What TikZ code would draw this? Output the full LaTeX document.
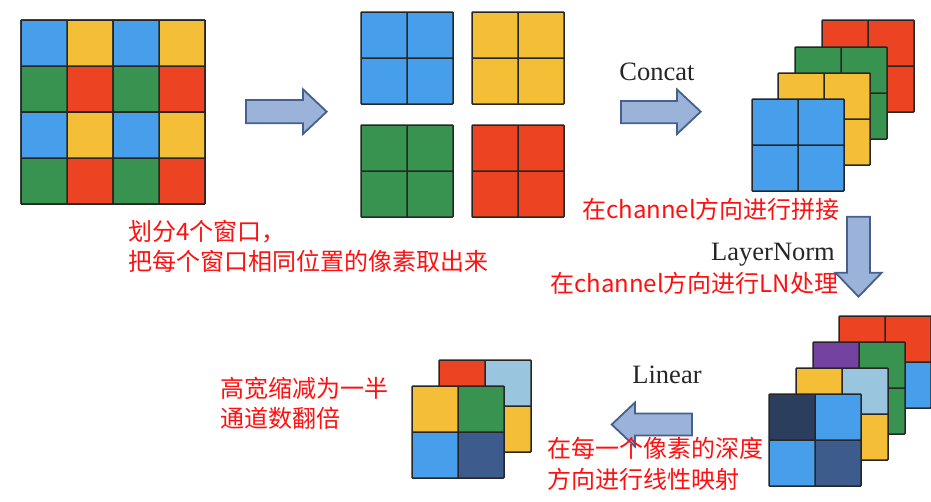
\documentclass[tikz,border=0pt]{standalone}
\usepackage{fontspec}
\setmainfont{Liberation Serif}
\newfontfamily\cjk{Noto Sans CJK SC}
\definecolor{cblue}{HTML}{479FEC}
\definecolor{cyellow}{HTML}{F4BF37}
\definecolor{cgreen}{HTML}{399350}
\definecolor{cred}{HTML}{EC4422}
\definecolor{cpurple}{HTML}{7442A0}
\definecolor{clight}{HTML}{9AC5DE}
\definecolor{cnavy}{HTML}{2B3E5D}
\definecolor{cdark}{HTML}{3E5B8E}
\definecolor{afill}{HTML}{9CB3D9}
\definecolor{adraw}{HTML}{46608E}
\definecolor{tred}{HTML}{FF1010}
\newcommand\lay[6]{%
\begin{scope}[shift={(#1,#2)}]
\fill[#3] (0,0) rectangle (46,46);
\fill[#4] (46,0) rectangle (92,46);
\fill[#5] (0,46) rectangle (46,92);
\fill[#6] (46,46) rectangle (92,92);
\draw[cellline] (0,0) rectangle (92,92) (46,0) -- (46,92) (0,46) -- (92,46);
\end{scope}}
\begin{document}
\begin{tikzpicture}[x=1pt,y=-1pt,
  cellline/.style={line width=1.5pt, draw=black!85, rounded corners=0.8pt},
  blockarrow/.style={fill=afill, draw=adraw, line width=1.8pt, line join=miter},
  entxt/.style={font=\fontsize{26.5}{26.5}\selectfont, text=black!85, inner sep=0pt},
  cntxt/.style={font=\cjk\fontsize{24}{30}\selectfont, text=tred, inner sep=0pt, anchor=base west}]
\useasboundingbox (0,0) rectangle (931,501);
% big 4x4 grid
\lay{21}{20}{cblue}{cyellow}{cgreen}{cred}
\lay{113}{20}{cblue}{cyellow}{cgreen}{cred}
\lay{21}{112}{cblue}{cyellow}{cgreen}{cred}
\lay{113}{112}{cblue}{cyellow}{cgreen}{cred}
\draw[cellline] (21,20) rectangle (205,204);
% arrow 1
\draw[blockarrow] (246,100) -- (303,100) -- (303,89.3) -- (326.7,111.7) -- (303,134) -- (303,123.3) -- (246,123.3) -- cycle;
% windows
\lay{361}{12}{cblue}{cblue}{cblue}{cblue}
\lay{472}{12}{cyellow}{cyellow}{cyellow}{cyellow}
\lay{361}{125}{cgreen}{cgreen}{cgreen}{cgreen}
\lay{472}{125}{cred}{cred}{cred}{cred}
% concat arrow
\node[entxt, anchor=base] (concat) at (657,80) {Concat};
\draw[blockarrow] (621,101) -- (677,101) -- (677,89.5) -- (700.7,111.7) -- (677,134) -- (677,123.3) -- (621,123.3) -- cycle;
% concat stack
\lay{822}{20}{cred}{cred}{cred}{cred}
\lay{795}{47}{cgreen}{cgreen}{cgreen}{cgreen}
\lay{778}{73}{cyellow}{cyellow}{cyellow}{cyellow}
\lay{752}{99}{cblue}{cblue}{cblue}{cblue}
% layernorm arrow
\node[entxt, anchor=base] (ln) at (773,260) {LayerNorm};
\draw[blockarrow] (847,216.7) -- (870,216.7) -- (870,272.7) -- (881.7,272.7) -- (858.5,296.7) -- (835.5,272.7) -- (847,272.7) -- cycle;
% LN stack
\lay{839}{316}{cred}{cred}{cblue}{cblue}
\lay{813}{342}{cpurple}{cgreen}{cgreen}{cgreen}
\lay{796}{368}{cyellow}{clight}{cyellow}{cyellow}
\lay{769}{394}{cnavy}{cblue}{cblue}{cdark}
% linear arrow
\node[entxt, anchor=base] (lin) at (667,383) {Linear};
\draw[blockarrow] (692,413.5) -- (635,413.5) -- (635,402.5) -- (611.7,424.5) -- (635,446.5) -- (635,435.5) -- (692,435.5) -- cycle;
% result
\lay{439}{360}{cred}{clight}{cyellow}{cyellow}
\lay{412}{386}{cyellow}{cgreen}{cblue}{cdark}
% red texts
\node[cntxt] (t1a) at (128,240) {划分4个窗口，};
\node[cntxt] (t1b) at (128,270) {把每个窗口相同位置的像素取出来};
\node[cntxt] (t2) at (582,218.5) {在channel方向进行拼接};
\node[cntxt] (t3) at (550,292) {在channel方向进行LN处理};
\node[cntxt] (t4a) at (547,457) {在每一个像素的深度};
\node[cntxt] (t4b) at (547,488) {方向进行线性映射};
\node[cntxt] (t5a) at (220,397) {高宽缩减为一半};
\node[cntxt] (t5b) at (220,427) {通道数翻倍};
\end{tikzpicture}
\end{document}
